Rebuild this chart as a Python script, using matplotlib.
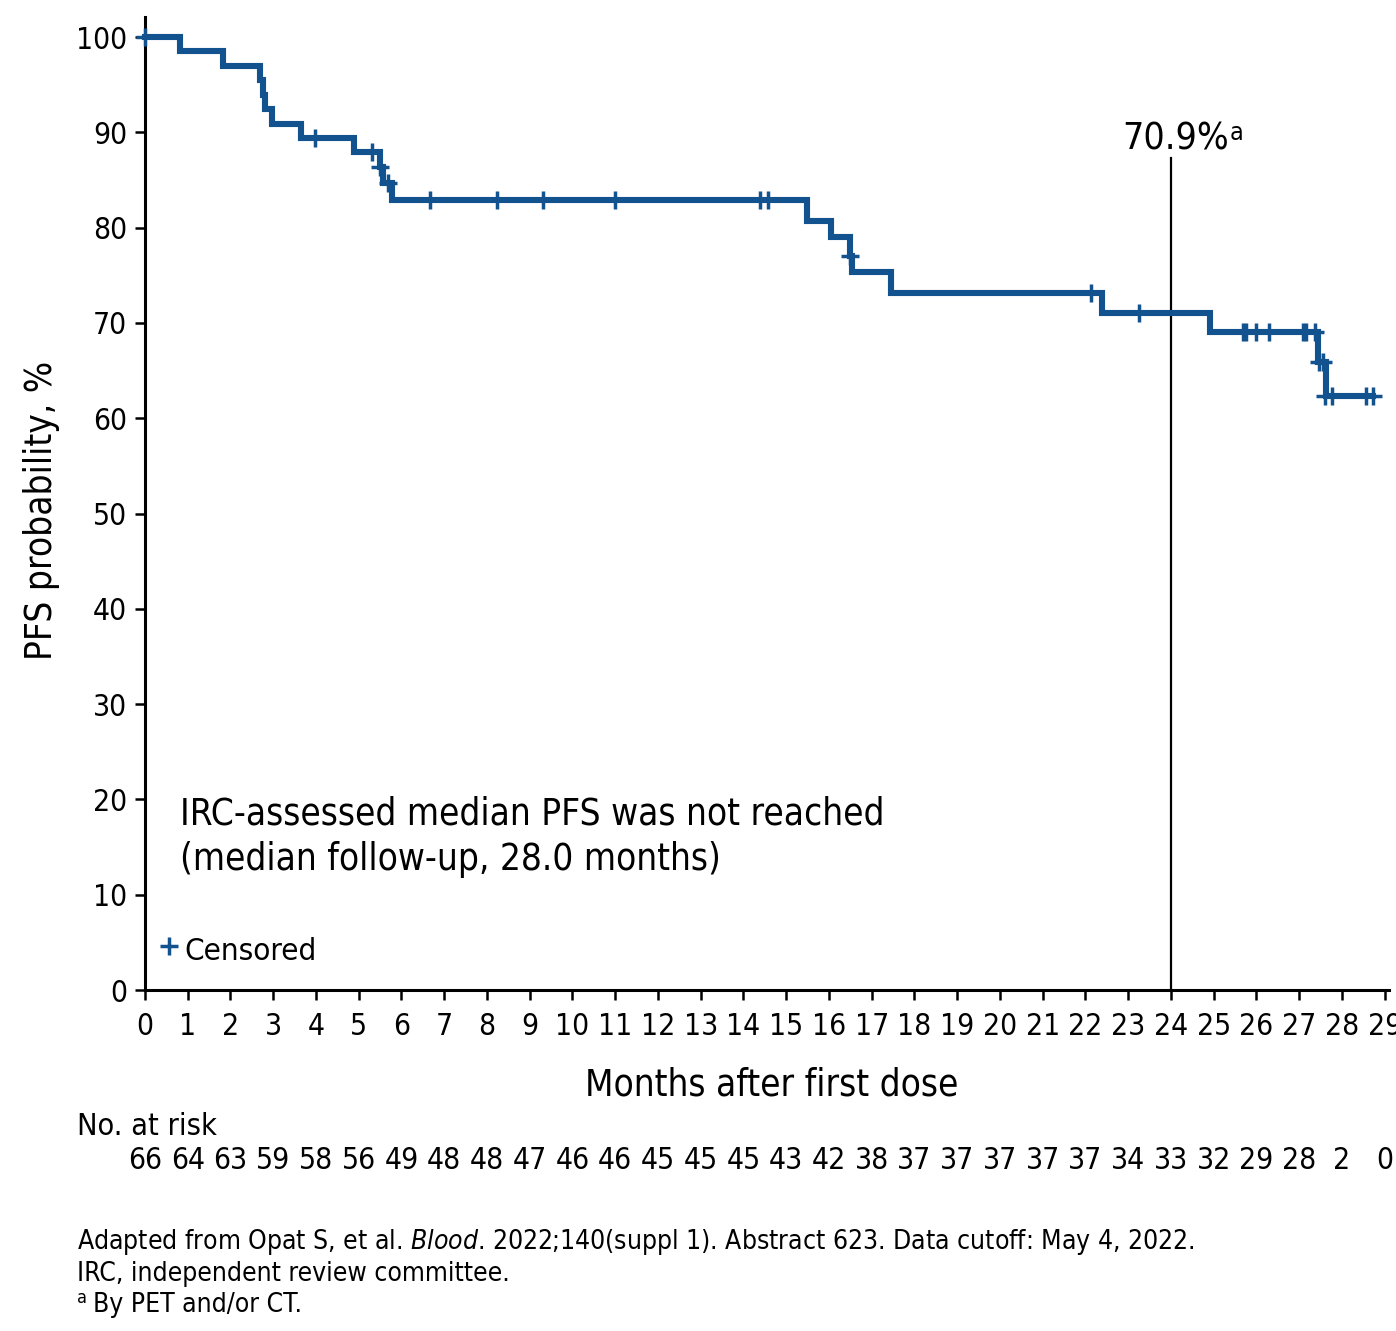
import matplotlib
matplotlib.use("Agg")
import matplotlib.pyplot as plt
from matplotlib.transforms import blended_transform_factory

plt.rcParams['font.family'] = ['DejaVu Sans Condensed', 'DejaVu Sans']
plt.rcParams['font.stretch'] = 'condensed'

# ---- data ----
step_times = [0, 0.82, 1.82, 2.70, 2.76, 2.80, 2.97, 3.66, 4.90, 5.50, 5.57, 5.77,
              15.48, 16.04, 16.49, 16.55, 17.44, 22.39, 24.91, 27.44, 27.63, 28.72]
step_surv = [100, 98.5, 97.0, 95.5, 93.9, 92.4, 90.9, 89.4, 87.9, 86.4, 84.7, 82.9,
             80.7, 79.0, 77.0, 75.3, 73.1, 71.0, 69.0, 65.9, 62.3, 62.3]

censor_times = [0, 3.98, 5.32, 5.50, 5.69, 6.67, 8.23, 9.31, 10.99, 14.38, 14.58,
                16.50, 22.14, 23.25, 25.68, 25.76, 26.00, 26.29, 27.09, 27.17, 27.38,
                27.47, 27.55, 27.60, 27.76, 28.56, 28.72]
censor_surv = [100, 89.4, 87.9, 86.4, 84.7, 82.9, 82.9, 82.9, 82.9, 82.9, 82.9,
               77.0, 73.1, 71.0, 69.0, 69.0, 69.0, 69.0, 69.0, 69.0, 69.0,
               65.9, 65.9, 62.3, 62.3, 62.3, 62.3]

x_ticks = list(range(0, 30))
y_ticks = list(range(0, 101, 10))
at_risk = [66, 64, 63, 59, 58, 56, 49, 48, 48, 47, 46, 46, 45, 45, 45, 43, 42, 38,
           37, 37, 37, 37, 37, 34, 33, 32, 29, 28, 2, 0]
landmark_month = 24
landmark_label = "70.9%"

BLUE = '#12538F'
W, H = 1396, 1331

fig = plt.figure(figsize=(W / 100, H / 100), dpi=100)

def fx(px):
    return px / W

def fy(py):
    return 1 - py / H

ax = fig.add_axes([fx(145), fy(990), fx(1389) - fx(145), fy(17) - fy(990)])
ax.set_xlim(0, 29.1)
ax.set_ylim(0, 102.1)

ax.plot(step_times, step_surv, drawstyle='steps-post', color=BLUE, lw=4.4,
        solid_joinstyle='miter', zorder=3, clip_on=False)
ax.plot(censor_times, censor_surv, ls='none', marker='+', ms=13, mew=2.5,
        color=BLUE, zorder=4, clip_on=False)

# landmark line
ax.plot([landmark_month, landmark_month], [0, 87.3], color='black', lw=1.6, zorder=2)
ax.text(landmark_month - 1.15, 88.2, landmark_label, fontsize=26.8, ha='left',
        va='baseline', color='black')
ax.text(landmark_month + 1.38, 89.2, 'a', fontsize=18, ha='left', va='baseline',
        color='black')

for s in ['top', 'right']:
    ax.spines[s].set_visible(False)
for s in ['left', 'bottom']:
    ax.spines[s].set_linewidth(2.2)

ax.set_xticks(x_ticks)
ax.set_yticks(y_ticks)
ax.tick_params(axis='both', direction='out', length=7, width=1.8, labelsize=21.5,
               colors='black')
ax.tick_params(axis='x', pad=8.5)
ax.tick_params(axis='y', pad=6)

# annotation text
ax.text(0.82, 17.4, 'IRC-assessed median PFS was not reached', fontsize=26.5,
        ha='left', va='baseline')
ax.text(0.82, 12.6, '(median follow-up, 28.0 months)', fontsize=26.5,
        ha='left', va='baseline')

# censored legend
ax.plot([0.55], [4.6], marker='+', ms=13, mew=2.5, color=BLUE, ls='none', clip_on=False)
ax.text(0.93, 3.1, 'Censored', fontsize=22.5, ha='left', va='baseline')

# axis labels
fig.text(fx(772), fy(1095), 'Months after first dose', fontsize=26.5,
         ha='center', va='baseline')
fig.text(fx(42), fy(510), 'PFS probability, %', fontsize=26.5, rotation=90,
         ha='center', va='center')

# number at risk
fig.text(fx(77), fy(1135), 'No. at risk', fontsize=22, ha='left', va='baseline')
trans = blended_transform_factory(ax.transData, fig.transFigure)
for m, n in zip(x_ticks, at_risk):
    ax.text(m, fy(1169), str(n), fontsize=21.5, ha='center', va='baseline',
            transform=trans, clip_on=False)

# footnotes
fig.text(fx(77), fy(1249), 'Adapted from Opat S, et al. $\\it{Blood}$. 2022;140(suppl 1). '
         'Abstract 623. Data cutoff: May 4, 2022.', fontsize=19, ha='left', va='baseline')
fig.text(fx(77), fy(1281), 'IRC, independent review committee.', fontsize=19,
         ha='left', va='baseline')
fig.text(fx(77), fy(1303), 'a', fontsize=13, ha='left', va='baseline')
fig.text(fx(93), fy(1312), 'By PET and/or CT.', fontsize=19, ha='left', va='baseline')

fig.savefig('out.png', dpi=100)
